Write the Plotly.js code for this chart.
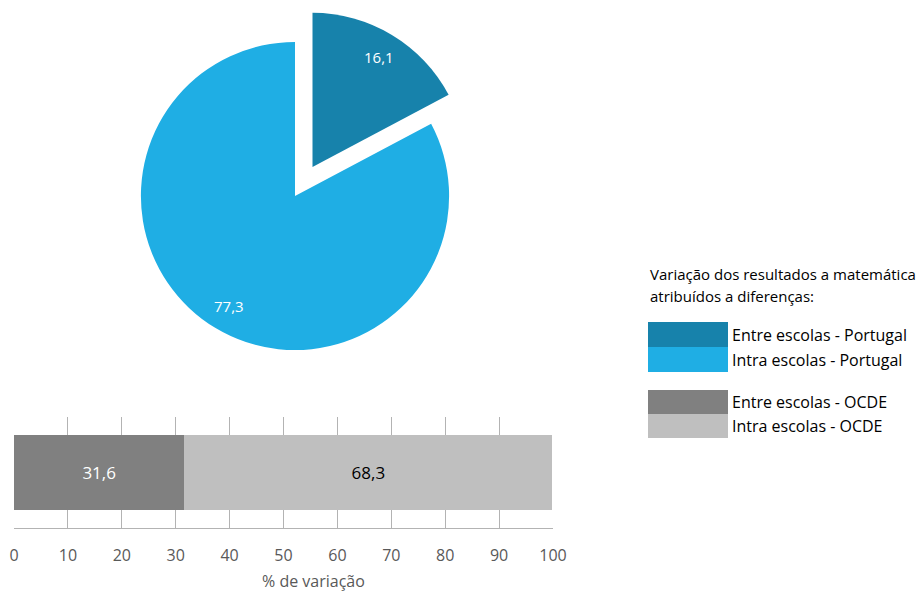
<!DOCTYPE html>
<html>
<head>
<meta charset="utf-8">
<script src="https://cdn.plot.ly/plotly-3.0.1.min.js"></script>
<style>html,body{margin:0;padding:0;background:#fff;}#chart{width:918px;height:592px;}</style>
</head>
<body>
<div id="chart"></div>
<script>
// Data
var pieLabels = ["Entre escolas - Portugal", "Intra escolas - Portugal"];
var pieValues = [16.1, 77.3];
var piePull = [0.22, 0];
var barLabels = ["Entre escolas - OCDE", "Intra escolas - OCDE"];
var barValues = [31.6, 68.3];
var barCategory = ["OCDE"];
var xTickVals = [0, 10, 20, 30, 40, 50, 60, 70, 80, 90, 100];
var legendTitleLines = ["Variação dos resultados a matemática", "atribuídos a diferenças:"];
var xTitle = "% de variação";

var colPT = ["#1782AB", "#1FAEE4"];
var colOCDE = ["#808080", "#BFBFBF"];
var barTextColors = ["#FFFFFF", "#000000"];
var FONT = "'Open Sans', 'Noto Sans', sans-serif";

var W = 918, H = 592;
function px(x){ return x / W; }
function py(y){ return 1 - y / H; }

// pie box (pixels)
var pieBox = {x0: 107, x1: 483, y0: 8, y1: 384};

var traces = [];
traces.push({
  type: "pie",
  labels: pieLabels,
  values: pieValues,
  sort: false,
  direction: "clockwise",
  rotation: 0,
  pull: piePull,
  marker: {colors: colPT, line: {width: 0}},
  textinfo: "none",
  domain: {x: [px(pieBox.x0), px(pieBox.x1)], y: [py(pieBox.y1), py(pieBox.y0)]},
  showlegend: false,
  hoverinfo: "label+value"
});
for (var i = 0; i < barValues.length; i++) {
  traces.push({
    type: "bar",
    orientation: "h",
    name: barLabels[i],
    x: [barValues[i]],
    y: barCategory,
    marker: {color: colOCDE[i], line: {width: 0}},
    texttemplate: "%{x:.1f}",
    textposition: "inside",
    insidetextanchor: "middle",
    textfont: {color: barTextColors[i], size: 17, family: FONT},
    showlegend: false,
    xaxis: "x", yaxis: "y"
  });
}

var shapes = [], annotations = [];

// pie value labels placed along each slice's mid-angle (Plotly geometry: r = box/(2+2*maxPull))
var maxPull = Math.max.apply(null, piePull);
var cx = (pieBox.x0 + pieBox.x1) / 2, cy = (pieBox.y0 + pieBox.y1) / 2;
var R = Math.min(pieBox.x1 - pieBox.x0, pieBox.y1 - pieBox.y0) / (2 + 2 * maxPull);
var total = pieValues.reduce(function(a, b){ return a + b; }, 0);
var cum = 0;
pieValues.forEach(function(v, k){
  var mid = (cum + v / 2) / total * 2 * Math.PI;
  cum += v;
  var sx = Math.sin(mid), sy = -Math.cos(mid);
  var rr = R * (0.835 + piePull[k]);
  annotations.push({xref: "paper", yref: "paper",
    x: px(cx + sx * rr), y: py(cy + sy * rr),
    xanchor: "center", yanchor: "middle", showarrow: false,
    text: v.toFixed(1).replace(".", ","),
    font: {family: FONT, size: 15, color: "#FFFFFF"}});
});

var legendItems = [
  {label: pieLabels[0], color: colPT[0], y0: 322, y1: 347},
  {label: pieLabels[1], color: colPT[1], y0: 347, y1: 372},
  {label: barLabels[0], color: colOCDE[0], y0: 390, y1: 414},
  {label: barLabels[1], color: colOCDE[1], y0: 414, y1: 438}
];
legendItems.forEach(function(it){
  shapes.push({type: "rect", xref: "paper", yref: "paper",
    x0: px(648), x1: px(728), y0: py(it.y1), y1: py(it.y0),
    fillcolor: it.color, line: {width: 0}, layer: "above"});
  annotations.push({xref: "paper", yref: "paper", x: px(730), y: py((it.y0 + it.y1) / 2),
    xanchor: "left", yanchor: "middle", showarrow: false, text: it.label,
    font: {family: FONT, size: 16, color: "#000000"}});
});
legendTitleLines.forEach(function(t, k){
  annotations.push({xref: "paper", yref: "paper", x: px(648), y: py(274 + 22 * k),
    xanchor: "left", yanchor: "middle", align: "left", showarrow: false, text: t,
    font: {family: FONT, size: 15, color: "#000000"}});
});
annotations.push({xref: "paper", yref: "paper", x: px(313), y: py(581),
  xanchor: "center", yanchor: "middle", showarrow: false, text: xTitle,
  font: {family: FONT, size: 16, color: "#595959"}});

var layout = {
  width: W, height: H,
  margin: {l: 0, r: 0, t: 0, b: 0},
  paper_bgcolor: "#FFFFFF", plot_bgcolor: "rgba(0,0,0,0)",
  separators: ",.",
  font: {family: FONT, size: 16, color: "#595959"},
  barmode: "stack",
  bargap: 0.324,
  xaxis: {
    domain: [px(14), px(553)],
    anchor: "y",
    range: [0, 100],
    tickvals: xTickVals,
    showgrid: true, gridcolor: "#B3B3B3", gridwidth: 1,
    zeroline: false,
    showline: true, linecolor: "#B3B3B3", linewidth: 1,
    ticks: "", ticklabelstandoff: 13,
    tickfont: {family: FONT, size: 16, color: "#595959"},
    fixedrange: true
  },
  yaxis: {
    domain: [py(528), py(417)],
    anchor: "x",
    showticklabels: false, showgrid: false, zeroline: false, showline: false,
    fixedrange: true
  },
  shapes: shapes,
  annotations: annotations,
  showlegend: false
};

Plotly.newPlot("chart", traces, layout, {displayModeBar: false, staticPlot: true});
</script>
</body>
</html>
